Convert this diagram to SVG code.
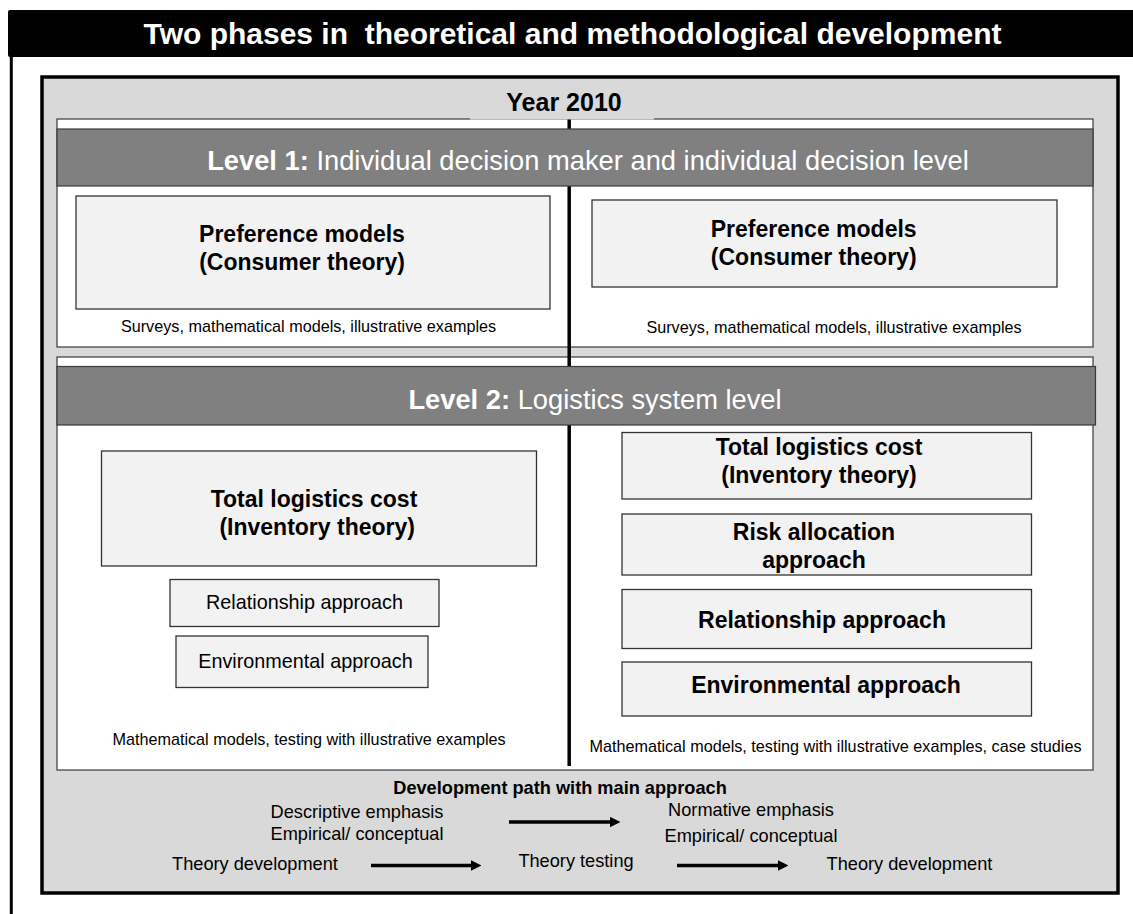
<svg xmlns="http://www.w3.org/2000/svg" width="1133" height="914" viewBox="0 0 1133 914">
  <style>
    text { font-family: "Liberation Sans", Arial, sans-serif; fill: #000; }
    .title { font-size: 30px; font-weight: bold; fill: #fff; white-space: pre; }
    .year { font-size: 25px; font-weight: bold; }
    .lvl { font-size: 27.3px; fill: #fff; }
    .lvl .b { font-weight: bold; }
    .panel { fill: #fff; stroke: #3a3a3a; stroke-width: 1.2; }
    .bar { fill: #808080; stroke: #3a3a3a; stroke-width: 1.2; }
    .box { fill: #f2f2f2; stroke: #333; stroke-width: 1.3; }
    .bt { font-size: 23px; font-weight: bold; text-anchor: middle; white-space: pre; }
    .rt { font-size: 19.8px; text-anchor: middle; }
    .cap { font-size: 16.2px; text-anchor: middle; }
    .path { font-size: 18.2px; text-anchor: middle; }
    .arrow { stroke: #000; stroke-width: 3.5; fill: none; marker-end: url(#head); }
  </style>
  <defs>
    <marker id="head" viewBox="0 0 10 10" refX="2" refY="5" markerWidth="3" markerHeight="3" orient="auto" markerUnits="strokeWidth">
      <path d="M0,0 L10,5 L0,10 Z" fill="#000"/>
    </marker>
  </defs>

  <rect width="1133" height="914" fill="#fff"/>

  <!-- heading bar and outer frame line -->
  <g id="heading">
    <rect x="8" y="10" width="1130" height="47" rx="2" fill="#000"/>
    <line x1="11.3" y1="56" x2="11.3" y2="914" stroke="#000" stroke-width="3"/>
    <text class="title" x="572.5" y="44" text-anchor="middle">Two phases in  theoretical and methodological development</text>
  </g>

  <!-- grey frame -->
  <g id="frame">
    <rect x="42" y="77" width="1076" height="816" fill="#d9d9d9" stroke="#000" stroke-width="3.5"/>
  </g>

  <!-- level panels -->
  <g id="level1-panel">
    <rect class="panel" x="57" y="119" width="1036" height="228"/>
  </g>
  <g id="level2-panel">
    <rect class="panel" x="57" y="357" width="1036" height="413"/>
  </g>

  <!-- year label -->
  <g id="year">
    <rect x="470" y="86" width="184" height="33.6" fill="#d9d9d9"/>
    <text class="year" x="564" y="111" text-anchor="middle">Year 2010</text>
  </g>

  <!-- divider between the two phases -->
  <g id="divider">
    <line x1="569.2" y1="119.6" x2="569.2" y2="766" stroke="#000" stroke-width="3.5"/>
  </g>

  <g id="level1-bar">
    <rect class="bar" x="57" y="129" width="1036" height="57"/>
    <text class="lvl" x="588" y="170" text-anchor="middle"><tspan class="b">Level 1:</tspan> Individual decision maker and individual decision level</text>
  </g>
  <g id="level2-bar">
    <rect class="bar" x="57" y="366.5" width="1038.5" height="58.5"/>
    <text class="lvl" x="595" y="409" text-anchor="middle"><tspan class="b">Level 2:</tspan> Logistics system level</text>
  </g>

  <!-- level 1, first phase -->
  <g id="pref-left">
    <rect class="box" x="76" y="196" width="474" height="113"/>
    <text class="bt" x="302" y="242">Preference models</text>
    <text class="bt" x="302" y="270">(Consumer theory)</text>
  </g>
  <g id="cap1-left">
    <text class="cap" x="308.5" y="332">Surveys, mathematical models, illustrative examples</text>
  </g>

  <!-- level 1, second phase -->
  <g id="pref-right">
    <rect class="box" x="592" y="200" width="465" height="87"/>
    <text class="bt" x="813.7" y="237">Preference models</text>
    <text class="bt" x="813.7" y="265">(Consumer theory)</text>
  </g>
  <g id="cap1-right">
    <text class="cap" x="834" y="333">Surveys, mathematical models, illustrative examples</text>
  </g>

  <!-- level 2, first phase -->
  <g id="tlc-left">
    <rect class="box" x="101.5" y="451" width="435" height="115"/>
    <text class="bt" x="314" y="507">Total logistics cost</text>
    <text class="bt" x="314" y="535"> (Inventory theory)</text>
  </g>
  <g id="rel-left">
    <rect class="box" x="170" y="579.5" width="269" height="47"/>
    <text class="rt" x="304.5" y="609">Relationship approach</text>
  </g>
  <g id="env-left">
    <rect class="box" x="176" y="636" width="252" height="51.5"/>
    <text class="rt" x="305.5" y="667.5">Environmental approach</text>
  </g>
  <g id="cap2-left">
    <text class="cap" x="309" y="745">Mathematical models, testing with illustrative examples</text>
  </g>

  <!-- level 2, second phase -->
  <g id="tlc-right">
    <rect class="box" x="622" y="432.5" width="409.5" height="66.5"/>
    <text class="bt" x="819" y="455">Total logistics cost</text>
    <text class="bt" x="819" y="483">(Inventory theory)</text>
  </g>
  <g id="risk-right">
    <rect class="box" x="622" y="514" width="409.5" height="61"/>
    <text class="bt" x="814" y="540">Risk allocation</text>
    <text class="bt" x="814" y="567.5">approach</text>
  </g>
  <g id="rel-right">
    <rect class="box" x="622" y="589.5" width="409.5" height="59"/>
    <text class="bt" x="822" y="628">Relationship approach</text>
  </g>
  <g id="env-right">
    <rect class="box" x="622" y="662" width="409.5" height="54"/>
    <text class="bt" x="826" y="692.5">Environmental approach</text>
  </g>
  <g id="cap2-right">
    <text class="cap" x="835.5" y="752">Mathematical models, testing with illustrative examples, case studies</text>
  </g>

  <!-- development path -->
  <g id="path-heading">
    <text class="path" x="560" y="794" font-weight="bold" font-size="18.5">Development path with main approach</text>
  </g>
  <g id="descriptive">
    <text class="path" x="357" y="818">Descriptive emphasis</text>
    <text class="path" x="357" y="840">Empirical/ conceptual</text>
  </g>
  <g id="normative">
    <text class="path" x="751" y="816">Normative emphasis</text>
    <text class="path" x="751" y="842">Empirical/ conceptual</text>
  </g>
  <g id="dev-1">
    <text class="path" x="255" y="870">Theory development</text>
  </g>
  <g id="testing">
    <text class="path" x="576" y="867">Theory testing</text>
  </g>
  <g id="dev-2">
    <text class="path" x="909.5" y="870">Theory development</text>
  </g>

  <g id="connectors">
    <line class="arrow" x1="509" y1="822" x2="612" y2="822"/>
    <line class="arrow" x1="371" y1="865.5" x2="473" y2="865.5"/>
    <line class="arrow" x1="677" y1="865.5" x2="780" y2="865.5"/>
  </g>
</svg>
